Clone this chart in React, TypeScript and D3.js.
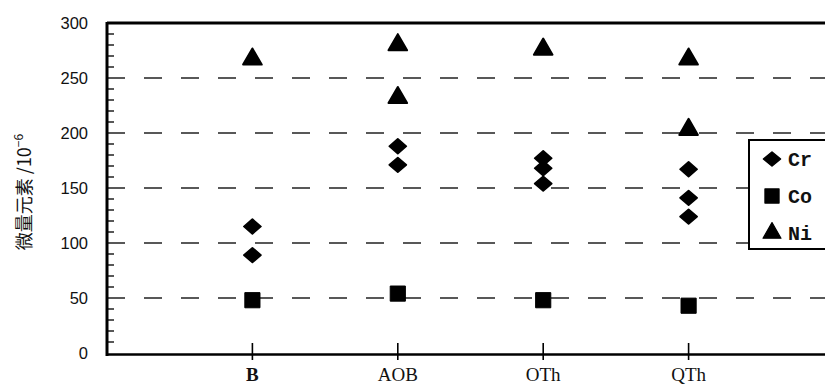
import { useRef, useEffect } from 'react'
import * as d3 from 'd3'

const CATEGORIES = ['B', 'AOB', 'OTh', 'QTh']
const CR = [[115, 89], [188, 171], [177, 168, 154], [167, 141, 124]]
const CO = [48, 54, 48, 43]
const NI = [[268], [281, 233], [277], [268, 204]]
const Y_TICKS = [0, 50, 100, 150, 200, 250, 300]
const GRID = [50, 100, 150, 200, 250]
const LEGEND = [
  { key: 'Cr', shape: d3.symbolDiamond2 },
  { key: 'Co', shape: d3.symbolSquare },
  { key: 'Ni', shape: d3.symbolTriangle },
]

const W = 825
const H = 385

export default function App() {
  const svgRef = useRef<SVGSVGElement>(null)

  useEffect(() => {
    const el = svgRef.current
    if (!el) return
    const svg = d3.select(el)
    svg.selectAll('*').remove()

    const x = d3.scaleLinear().domain([0, 5]).range([107, 834])
    const y = d3.scaleLinear().domain([0, 300]).range([353, 23])
    const left = 107

    // dashed grid
    svg.selectAll('.grid').data(GRID).join('line')
      .attr('x1', left).attr('x2', W)
      .attr('y1', d => y(d)).attr('y2', d => y(d))
      .attr('stroke', '#222').attr('stroke-width', 1.6)
      .attr('stroke-dasharray', '18,19')

    // minor ticks on y axis
    svg.selectAll('.minor').data(d3.range(0, 301, 10).filter(v => v % 50 !== 0)).join('line')
      .attr('x1', left).attr('x2', left + 7)
      .attr('y1', d => y(d)).attr('y2', d => y(d))
      .attr('stroke', '#111').attr('stroke-width', 1.4)

    // axes frame
    svg.append('line').attr('x1', left).attr('x2', W).attr('y1', 23).attr('y2', 23)
      .attr('stroke', '#000').attr('stroke-width', 3)
    svg.append('line').attr('x1', left).attr('x2', left).attr('y1', 22).attr('y2', 356)
      .attr('stroke', '#000').attr('stroke-width', 3)
    svg.append('line').attr('x1', left).attr('x2', W).attr('y1', 354.5).attr('y2', 354.5)
      .attr('stroke', '#000').attr('stroke-width', 2.5)

    // y tick labels
    svg.selectAll('.ylab').data(Y_TICKS).join('text')
      .attr('x', 88).attr('y', d => y(d) + 6)
      .attr('text-anchor', 'end')
      .attr('font-family', 'Liberation Sans, Arial, sans-serif')
      .attr('font-size', 16.5).attr('fill', '#111')
      .text(d => d)

    // x ticks and labels
    CATEGORIES.forEach((c, i) => {
      const cx = x(i + 1)
      svg.append('line').attr('x1', cx).attr('x2', cx).attr('y1', 343).attr('y2', 360)
        .attr('stroke', '#000').attr('stroke-width', 1.6)
      svg.append('text').attr('x', cx).attr('y', 381)
        .attr('text-anchor', 'middle')
        .attr('font-family', 'Liberation Serif, Times New Roman, serif')
        .attr('font-weight', c === 'B' ? 'bold' : 'normal')
        .attr('font-size', 19).attr('fill', '#111')
        .text(c)
    })

    // y axis title
    const yt = svg.append('text')
      .attr('transform', 'translate(31,192) rotate(-90)')
      .attr('text-anchor', 'middle')
      .attr('font-family', 'Noto Sans CJK SC, sans-serif')
      .attr('font-size', 18).attr('fill', '#111')
    yt.append('tspan').text('微量元素 /10')
    yt.append('tspan').attr('dy', -8).attr('font-size', 12).text('−6')

    const sym = (shape: d3.SymbolType, size: number) => d3.symbol().type(shape).size(size)()

    // Ni
    NI.forEach((vals, i) => vals.forEach(v => {
      svg.append('path').attr('d', sym(d3.symbolTriangle, 150))
        .attr('transform', `translate(${x(i + 1)},${y(v) + 1})`)
        .attr('fill', '#000').attr('stroke', '#000').attr('stroke-width', 2).attr('stroke-linejoin', 'round')
    }))
    // Cr
    CR.forEach((vals, i) => vals.forEach(v => {
      svg.append('path').attr('d', sym(d3.symbolDiamond2, 140))
        .attr('transform', `translate(${x(i + 1)},${y(v)}) scale(1.15,1)`)
        .attr('fill', '#000').attr('stroke', '#000').attr('stroke-width', 1.5).attr('stroke-linejoin', 'round')
    }))
    // Co
    CO.forEach((v, i) => {
      svg.append('path').attr('d', sym(d3.symbolSquare, 230))
        .attr('transform', `translate(${x(i + 1)},${y(v)})`)
        .attr('fill', '#000').attr('stroke', '#000').attr('stroke-width', 1).attr('stroke-linejoin', 'round')
    })

    // legend
    svg.append('rect').attr('x', 749).attr('y', 140).attr('width', 100).attr('height', 109)
      .attr('fill', '#fff').attr('stroke', '#000').attr('stroke-width', 2)
    LEGEND.forEach((l, i) => {
      const ly = 159 + i * 37
      const size = l.key === 'Co' ? 200 : l.key === 'Cr' ? 130 : 140
      svg.append('path').attr('d', sym(l.shape, size))
        .attr('transform', `translate(772,${ly})` + (l.key === 'Cr' ? ' scale(1.2,1)' : ''))
        .attr('fill', '#000').attr('stroke', '#000').attr('stroke-width', 1.2).attr('stroke-linejoin', 'round')
      svg.append('text').attr('x', 788).attr('y', ly + 7)
        .attr('font-family', 'Liberation Mono, Courier New, monospace')
        .attr('font-weight', 'bold')
        .attr('font-size', 20).attr('fill', '#111')
        .text(l.key)
    })
  }, [])

  return (
    <svg ref={svgRef} width={W} height={H}
      style={{ position: 'absolute', left: 0, top: 0, background: '#fff' }} />
  )
}
